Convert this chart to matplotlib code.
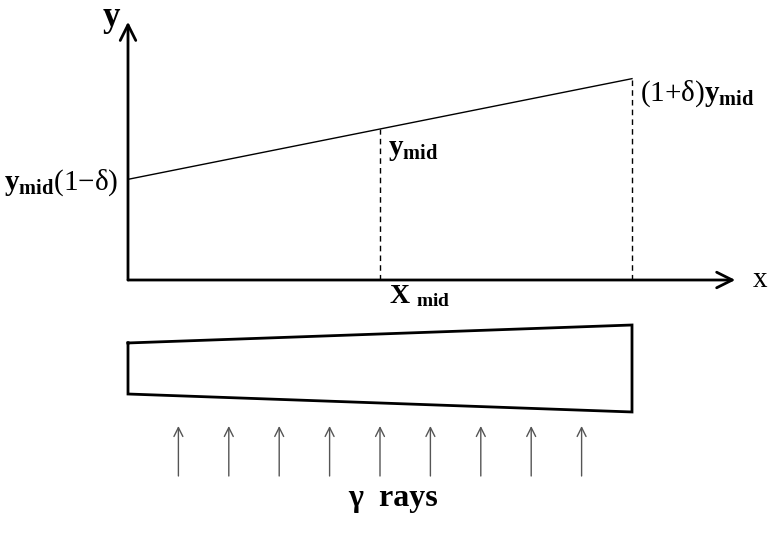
import matplotlib
matplotlib.use("Agg")
import matplotlib.pyplot as plt
import numpy as np

plt.rcParams['font.family'] = ['Liberation Serif', 'DejaVu Serif']
plt.rcParams['mathtext.fontset'] = 'custom'
plt.rcParams['mathtext.rm'] = 'Liberation Serif'
plt.rcParams['mathtext.bf'] = 'Liberation Serif:bold'
plt.rcParams['mathtext.it'] = 'Liberation Serif:italic'

# Diagram data (x_mid = 1, y_mid = 1, delta = 1/3)
x_mid = 1.0
y_mid = 1.0
delta = 1.0 / 3.0
line_x = [0.0, 2.0]
line_y = [y_mid * (1 - delta), y_mid * (1 + delta)]
mark_x = [x_mid, 2.0]
mark_y = [y_mid, y_mid * (1 + delta)]
axis_x_end = 2.41
axis_y_end = 1.71
# absorber (trapezoid) outline
slab_x = [0.0, 2.0, 2.0, 0.0, 0.0]
slab_y = [-0.417, -0.298, -0.874, -0.755, -0.417]
# gamma rays
ray_x = [0.2, 0.4, 0.6, 0.8, 1.0, 1.2, 1.4, 1.6, 1.8]
ray_y0 = -1.298
ray_y1 = -0.967

fig = plt.figure(figsize=(7.69, 5.34), dpi=100)
ax = fig.add_axes([0, 0, 1, 1])
ax.set_xlim(-128 / 252, (769 - 128) / 252)
ax.set_ylim((280 - 534) / 151, 280 / 151)
ax.axis('off')

# axes with arrows
ax.annotate('', xy=(axis_x_end, 0), xytext=(0, 0),
            arrowprops=dict(arrowstyle='->', lw=2, color='black',
                            mutation_scale=28, shrinkA=0, shrinkB=0))
ax.annotate('', xy=(0, axis_y_end), xytext=(0, 0),
            arrowprops=dict(arrowstyle='->', lw=2, color='black',
                            mutation_scale=28, shrinkA=0, shrinkB=0))

# linear profile
ax.plot(line_x, line_y, color='black', lw=1)
for mx, my in zip(mark_x, mark_y):
    ax.plot([mx, mx], [0, my], color='black', lw=1, ls=(0, (4, 3)))

# labels
ax.text(-0.03, axis_y_end + 0.03, 'y', fontsize=25, fontweight='bold',
        ha='right', va='center')
ax.text(axis_x_end + 0.07, 0.0, 'x', fontsize=21, ha='left', va='center')
ax.text(-0.04, line_y[0] - 0.02, r'$\mathbf{y}_{\mathbf{mid}}$(1$-$δ)',
        fontsize=21, ha='right', va='center')
ax.text(x_mid + 0.03, y_mid - 0.14, r'$\mathbf{y}_{\mathbf{mid}}$',
        fontsize=21, ha='left', va='center')
ax.text(2.03, line_y[1] - 0.1, r'(1+δ)$\mathbf{y}_{\mathbf{mid}}$',
        fontsize=21, ha='left', va='center')
ax.text(x_mid + 0.035, -0.11, r'$\mathbf{X}$ $\mathbf{_{mid}}$',
        fontsize=20, ha='left', va='center')

# absorber
ax.plot(slab_x, slab_y, color='black', lw=2, solid_joinstyle='miter')

# gamma rays
for rx in ray_x:
    ax.annotate('', xy=(rx, ray_y1), xytext=(rx, ray_y0),
                arrowprops=dict(arrowstyle='->', lw=1, color='#555555',
                                mutation_scale=16, shrinkA=0, shrinkB=0))
ax.text(x_mid + 0.05, -1.45, 'γ  rays', fontsize=23, fontweight='bold',
        ha='center', va='center')

fig.savefig('out.png', dpi=100)
